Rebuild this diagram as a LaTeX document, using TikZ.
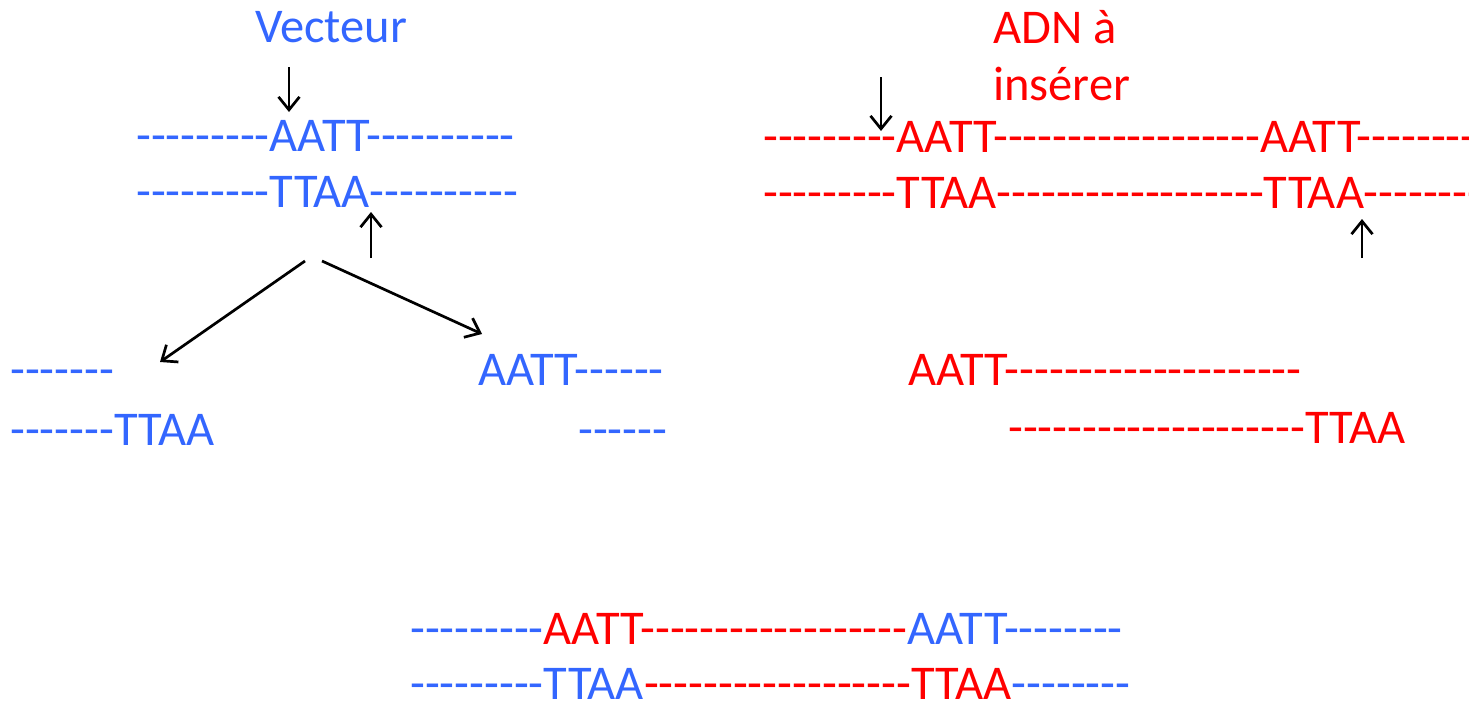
\documentclass[tikz,border=0pt]{standalone}
\usepackage{fontspec}
\newfontfamily\calib{Carlito}
\usetikzlibrary{arrows.meta}
\definecolor{dnablue}{RGB}{51,102,255}
\definecolor{dnared}{RGB}{255,0,0}
\newcommand{\bl}[1]{\textcolor{dnablue}{#1}}
\newcommand{\rd}[1]{\textcolor{dnared}{#1}}
\begin{document}
\begin{tikzpicture}[x=1pt,y=-1pt,
  seq/.style={inner sep=0pt,anchor=base west,font=\calib\fontsize{48.5}{58}\selectfont},
  cut/.style={draw=black,line width=2.7pt,-{Straight Barb[length=13pt,width=21pt,line width=2.7pt]}}]
\useasboundingbox (0,0) rectangle (1469,707);
% titles
\node[seq,anchor=base,text=dnablue] (vec) at (331,42) {Vecteur};
\node[seq,text=dnared] (adn1) at (993,43) {ADN à};
\node[seq,text=dnared] (adn2) at (993,100) {insérer};
% vector
\node[seq,text=dnablue] (v1) at (136,151) {---------AATT----------};
\node[seq,text=dnablue] (v2) at (136,207) {---------TTAA----------};
% insert DNA
\node[seq,text=dnared] (d1) at (763,152) {---------AATT------------------AATT--------};
\node[seq,text=dnared] (d2) at (763,208) {---------TTAA------------------TTAA--------};
% cut vector
\node[seq,text=dnablue] (l1) at (10,385) {-------};
\node[seq,text=dnablue] (l2) at (10,445) {-------TTAA};
\node[seq,text=dnablue] (r1) at (478,385) {AATT------};
\node[seq,text=dnablue] (r2) at (578,445) {------};
% cut insert
\node[seq,text=dnared] (c1) at (908,385) {AATT--------------------};
\node[seq,text=dnared] (c2) at (1008,443) {--------------------TTAA};
% recombinant
\node[seq] (b1) at (410,644) {\bl{---------}\rd{AATT------------------}\bl{AATT--------}};
\node[seq] (b2) at (410,699) {\bl{---------TTAA}\rd{------------------TTAA}\bl{--------}};
% arrows
\coordinate (a1s) at (289,67);  \coordinate (a1e) at (289,112);
\coordinate (a2s) at (371,258); \coordinate (a2e) at (371,212);
\coordinate (a3s) at (881,77);  \coordinate (a3e) at (881,131);
\coordinate (a4s) at (1362,258); \coordinate (a4e) at (1362,219);
\coordinate (a5s) at (305,261); \coordinate (a5e) at (160,362);
\coordinate (a6s) at (322,261); \coordinate (a6e) at (482,334);
\draw[cut] (a1s) -- (a1e);
\draw[cut] (a2s) -- (a2e);
\draw[cut] (a3s) -- (a3e);
\draw[cut] (a4s) -- (a4e);
\draw[cut] (a5s) -- (a5e);
\draw[cut] (a6s) -- (a6e);
\end{tikzpicture}
\end{document}
